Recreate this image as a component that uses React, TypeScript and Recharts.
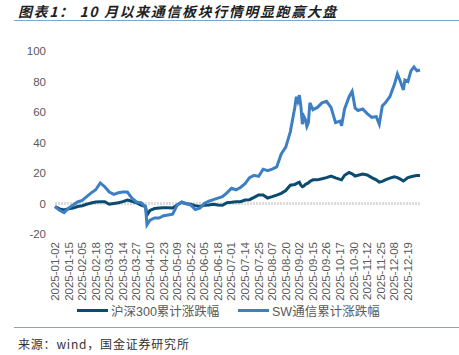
import React from "react";
import {
  LineChart,
  Line,
  XAxis,
  YAxis,
  ReferenceLine,
  Legend,
} from "recharts";

// trading-day index within 2025 (0 = 2025-01-02)
const tradingDay = [
  0, 3, 6, 9, 12, 15, 18, 21, 24, 27, 30, 33, 36, 39, 42, 45, 48, 51, 54, 57,
  60, 61, 63, 66, 69, 72, 75, 78, 81, 84, 87, 90, 93, 96, 99, 102, 105, 108,
  111, 114, 117, 120, 123, 126, 129, 132, 135, 138, 141, 144, 147, 150, 153,
  156, 159, 160, 161, 162, 163, 164, 165, 166, 167, 168, 169, 171, 174, 177,
  180, 183, 186, 189, 190, 192, 195, 197, 199, 201, 204, 207, 210, 213, 215,
  217, 219, 222, 225, 227, 229, 231, 232, 234, 236, 238, 240, 242,
];

const csi300 = [
  -2, -3.5, -4.3, -3.5, -3, -2, -1.5, -0.5, 0.3, 1, 1.2, 1.2, -0.5, 0, 0.5,
  1.2, 2.3, 1.5, 0.5, -1, -2, -7.5, -4.5, -3.3, -3, -2.8, -2.8, -3, -1, 0.8,
  -0.2, -0.5, -1.4, -2, -1.2, -1, -0.5, -1, -1.2, 0.5, 0.8, 1.2, 1.2, 2.3, 2.5,
  4, 5.6, 5.6, 3.6, 4.5, 5.5, 6.7, 8.5, 12, 12.5, 13, 13.5, 14, 12, 11, 11.5,
  12.5, 13, 13.5, 14.5, 15.5, 15.5, 16.2, 17, 18, 16.8, 15.8, 15.5, 18.5, 20.3,
  19.5, 18, 18.5, 19.3, 18.7, 17, 15.5, 14, 14.5, 15.5, 16.6, 17.5, 17, 16,
  14.8, 15.5, 17, 17.5, 18, 18.3, 18.3,
];

const swTelecom = [
  -2, -4.5, -6, -3, -1, 1, 2, 4.5, 7, 9, 13.5, 11, 7.5, 6, 7, 7.5, 7.5, 3.5, 1,
  0.5, -2, -14, -11, -9.5, -9.5, -8, -7.5, -7, -1, 1, 0, -1, -4, -3, 0, 1.5,
  2.5, 3.5, 4.5, 7, 10, 9, 10.5, 13, 17, 18.5, 17.8, 22.5, 21.5, 22.5, 24, 32.5,
  37, 47, 63, 70, 67, 71, 64, 52, 57, 55, 50.5, 53, 66, 61.5, 63, 66, 67, 63,
  53, 54, 51, 62, 70, 73.5, 62.5, 61, 62, 59, 56.5, 57, 52, 64, 66, 70, 78, 85,
  80, 74.5, 81, 80, 87, 89.5, 87, 87.5,
];

const tickLabels = [
  "2025-01-02", "2025-01-15", "2025-02-05", "2025-02-18", "2025-03-03",
  "2025-03-14", "2025-03-27", "2025-04-10", "2025-04-23", "2025-05-09",
  "2025-05-22", "2025-06-05", "2025-06-18", "2025-07-01", "2025-07-14",
  "2025-07-25", "2025-08-07", "2025-08-20", "2025-09-02", "2025-09-15",
  "2025-09-26", "2025-10-17", "2025-10-30", "2025-11-12", "2025-11-25",
  "2025-12-08", "2025-12-19",
];

const yTicks = [-20, 0, 20, 40, 60, 80, 100];

const data = tradingDay.map((d, i) => ({
  d,
  csi: csi300[i],
  sw: swTelecom[i],
}));

const xTicks = tickLabels.map((_, k) => k * 9);

const axisFont = "'Liberation Sans', Arial, sans-serif";
const cjkFont = "'Liberation Sans', 'Noto Sans CJK SC', sans-serif";

const DARK = "#0b4b6f";
const LIGHT = "#3d7fc2";

function DateTick(props: any) {
  const { x, y, payload } = props;
  const label = tickLabels[Math.round(payload.value / 9)] ?? "";
  return (
    <text
      x={x}
      y={y}
      dy={4}
      transform={`rotate(-90, ${x}, ${y})`}
      textAnchor="end"
      fill="#595959"
      fontSize={11.5}
      fontFamily={axisFont}
    >
      {label}
    </text>
  );
}

function ChartLegend() {
  const item = (color: string, text: string, left: number) => (
    <div
      style={{
        position: "absolute",
        left,
        top: 0,
        display: "flex",
        alignItems: "center",
        height: 20,
      }}
    >
      <div style={{ width: 31, height: 3, background: color, marginRight: 3 }} />
      <span style={{ fontSize: 12.5, color: "#595959", fontFamily: cjkFont }}>
        {text}
      </span>
    </div>
  );
  return (
    <div style={{ position: "relative", width: 459, height: 20 }}>
      {item(DARK, "沪深300累计涨跌幅", 77)}
      {item(LIGHT, "SW通信累计涨跌幅", 238)}
    </div>
  );
}

export default function App() {
  return (
    <div
      style={{
        position: "relative",
        width: 459,
        height: 355,
        background: "#fff",
        overflow: "hidden",
      }}
    >
      <style>{"body{margin:0}"}</style>
      <svg
        width={459}
        height={20}
        style={{ position: "absolute", left: 0, top: 0 }}
      >
        <text
          x={18}
          y={16.5}
          fontSize={14}
          letterSpacing={1.6}
          fontWeight="bold"
          fontStyle="italic"
          fill="#1f1f1f"
          fontFamily="'Noto Sans CJK SC', sans-serif"
        >
          图表1： 10 月以来通信板块行情明显跑赢大盘
        </text>
      </svg>
      <div
        style={{
          position: "absolute",
          left: 14,
          right: 0,
          top: 20,
          height: 1,
          background: "#7fa6c4",
        }}
      />
      <div style={{ position: "absolute", left: 0, top: 0 }}>
        <LineChart
          width={459}
          height={320}
          data={data}
          margin={{ top: 51, right: 39, bottom: 0, left: 0 }}
        >
          <XAxis
            dataKey="d"
            type="number"
            domain={[0, 242]}
            ticks={xTicks}
            interval={0}
            tick={<DateTick />}
            axisLine={false}
            tickLine={false}
            height={66}
          />
          <YAxis
            type="number"
            domain={[-20, 100]}
            ticks={yTicks}
            width={55}
            axisLine={false}
            tickLine={false}
            tickMargin={3}
            tick={{ fill: "#595959", fontSize: 11.5, fontFamily: axisFont }}
          />
          <ReferenceLine
            y={0}
            stroke="#dcdcdc"
            strokeWidth={3}
            strokeDasharray="2 1"
          />
          <Line
            dataKey="csi"
            name="沪深300累计涨跌幅"
            stroke={DARK}
            strokeWidth={3}
            dot={false}
            type="linear"
            isAnimationActive={false}
          />
          <Line
            dataKey="sw"
            name="SW通信累计涨跌幅"
            stroke={LIGHT}
            strokeWidth={3}
            dot={false}
            type="linear"
            isAnimationActive={false}
          />
          <Legend
            verticalAlign="bottom"
            height={20}
            content={<ChartLegend />}
            wrapperStyle={{ left: 0, width: 459 }}
          />
        </LineChart>
      </div>
      <div
        style={{
          position: "absolute",
          left: 14,
          right: 0,
          top: 327,
          height: 1,
          background: "#8ba3b8",
        }}
      />
      <div
        style={{
          position: "absolute",
          left: 18,
          top: 336,
          fontSize: 12,
          lineHeight: "16px",
          letterSpacing: 0.8,
          color: "#333",
          fontFamily: "'Noto Sans CJK SC', sans-serif",
          whiteSpace: "nowrap",
        }}
      >
        来源：wind，国金证券研究所
      </div>
    </div>
  );
}
